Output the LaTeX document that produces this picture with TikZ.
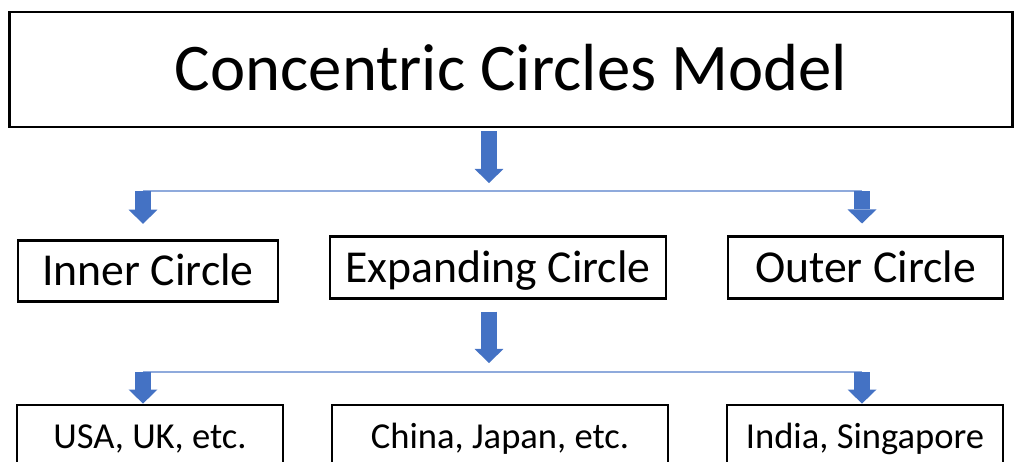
\documentclass[tikz,border=0pt]{standalone}
\usepackage{fontspec}
\setmainfont{Carlito}
\usepackage{tikz}
\usetikzlibrary{positioning,arrows.meta}
\definecolor{arrowblue}{HTML}{4472C4}
\definecolor{splitblue}{HTML}{8FAADC}
\tikzstyle{box}=[rectangle, draw=black, line width=2pt, text centered, text=black, inner sep=0pt, text depth=0pt]
\tikzstyle{heading}=[box, font=\fontsize{47.4}{50}\selectfont, text height=30.5pt]
\tikzstyle{circlebox}=[box, font=\fontsize{32.5}{36}\selectfont, text height=20.9pt, minimum height=1.53cm]
\tikzstyle{countrybox}=[box, font=\fontsize{26}{30}\selectfont, text height=16.7pt, minimum height=1.6cm]
\tikzstyle{down}=[draw=arrowblue, line width=10.7pt, -{Triangle[width=20.6pt, length=10pt, line width=0pt]}]
\tikzstyle{split}=[draw=splitblue, line width=1.4pt]

\begin{document}
\begin{tikzpicture}[x=0.025cm, y=-0.025cm]
        \useasboundingbox (0,0) rectangle (1016,461);
        \clip (0,0) rectangle (1016,461);

        \node (title) [heading, minimum width=25.05cm, minimum height=2.875cm] at (511,69.5) {Concentric Circles Model};

        \node (inner) [circlebox, minimum width=6.5cm] at (148,271) {Inner Circle};
        \node (expanding) [circlebox, minimum width=8.4cm] at (498,267.5) {Expanding Circle};
        \node (outer) [circlebox, minimum width=6.875cm] at (865.5,267.5) {Outer Circle};

        \node (usa) [countrybox, minimum width=6.65cm] at (150,437) {USA, UK, etc.};
        \node (china) [countrybox, minimum width=8.4cm] at (500,437) {China, Japan, etc.};
        \node (india) [countrybox, minimum width=6.9cm] at (865,437) {India, Singapore};

        % first split
        \coordinate (split1) at (489,191);
        \coordinate (split1w) at (143,191);
        \coordinate (split1e) at (862,191);
        \draw [split] (split1w) -- (split1e);
        \draw [down, shorten <=0.075cm, shorten >=0.2cm] (title.south -| split1) -- (split1);
        \draw [down, shorten >=0.38cm] (split1w) -- (split1w |- inner.north);
        \draw [down, shorten >=0.3cm] (split1e) -- (split1e |- outer.north);

        % second split
        \coordinate (split2) at (489,372);
        \coordinate (split2w) at (143,372);
        \coordinate (split2e) at (862,372);
        \draw [split] (split2w) -- (split2e);
        \draw [down, shorten <=0.3cm, shorten >=0.225cm] (expanding.south -| split2) -- (split2);
        \draw [down] (split2w) -- (split2w |- usa.north);
        \draw [down] (split2e) -- (split2e |- india.north);

    \end{tikzpicture}
\end{document}
